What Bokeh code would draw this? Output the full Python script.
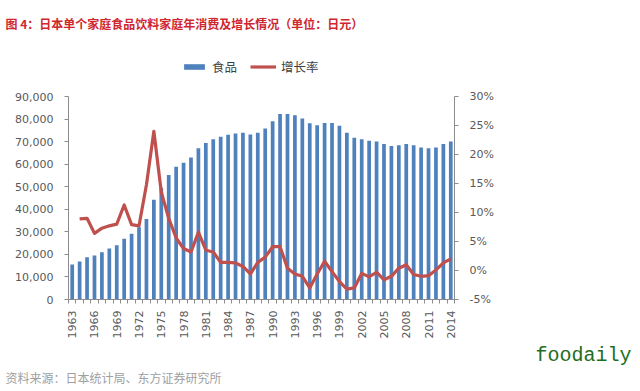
import math
from bokeh.plotting import figure
from bokeh.models import (Range1d, LinearAxis, FixedTicker, NumeralTickFormatter,
                          PrintfTickFormatter, Legend, LegendItem, Title)
from bokeh.embed import file_html
from bokeh.resources import INLINE

# ---------------- data ----------------
years = list(range(1963, 2015))
food = [15500, 16800, 18700, 19500, 20900, 22600, 24100, 26900, 29100, 32000,
        35700, 44200, 49500, 55200, 58800, 60600, 63000, 67100, 69400, 71100,
        72100, 73000, 73600, 73900, 73200, 73900, 75800, 79000, 82200, 82200,
        81700, 80300, 78100, 77300, 78200, 78200, 77000, 73900, 71700, 71100,
        70400, 70100, 68900, 68000, 68400, 68900, 68400, 67400, 67100, 67400,
        68900, 70000]
growth_years = years[1:]
growth = [8.9, 9.0, 6.4, 7.3, 7.7, 8.0, 11.3, 7.9, 7.7, 14.8,
          24.0, 13.5, 9.0, 5.6, 3.8, 3.2, 6.6, 3.5, 3.2, 1.4,
          1.4, 1.3, 0.7, -0.6, 1.4, 2.3, 4.1, 4.1, 0.4, -0.6,
          -1.0, -3.0, -0.6, 1.6, -0.2, -1.9, -3.2, -3.0, -0.5, -1.1,
          -0.3, -1.6, -1.0, 0.4, 1.0, -0.7, -1.0, -0.9, 0.1, 1.3, 2.0]
left_ticks = [0, 10000, 20000, 30000, 40000, 50000, 60000, 70000, 80000, 90000]
right_ticks = [-5, 0, 5, 10, 15, 20, 25, 30]
label_years = years[::3]

title_text = "图 4：日本单个家庭食品饮料家庭年消费及增长情况（单位：日元）"
source_text = "资料来源：日本统计局、东方证券研究所"
brand_text = "foodaily"
series_names = ["食品", "增长率"]

# ---------------- layout (page px) ----------------
W, H = 636, 388
FL, FR = 68, 454        # frame left / right
FT, PT, PB = 36, 96, 299  # frame top, plot-area top, plot-area bottom
ext = (PB - FT) / (PB - PT)   # frame extends above the plot area to hold the legend

y_lo, y_hi = left_ticks[0], left_ticks[-1]
r_lo, r_hi = right_ticks[0], right_ticks[-1]

p = figure(width=W, height=H, output_backend="svg", toolbar_location=None,
           title=None, x_range=Range1d(years[0] - 0.5, years[-1] + 0.5),
           y_range=Range1d(y_lo, y_lo + (y_hi - y_lo) * ext),
           min_border_left=FL, min_border_right=W - FR, min_border_top=FT,
           min_border_bottom=H - PB)
p.background_fill_color = "white"
p.border_fill_color = "white"
p.outline_line_color = None
p.xgrid.visible = False
p.ygrid.visible = False

axis_color = "#8c8c8c"
lab_color = "#595959"
font = "DejaVu Sans"

bars = p.vbar(x=years, top=food, width=0.5, fill_color="#4f81bd", line_color=None)

p.extra_y_ranges = {"pct": Range1d(r_lo, r_lo + (r_hi - r_lo) * ext)}
line = p.line(x=growth_years, y=growth, y_range_name="pct",
              line_color="#c0504d", line_width=3.2, line_join="round")

# x axis
xa = p.xaxis[0]
xa.ticker = FixedTicker(ticks=label_years,
                        minor_ticks=[y - 0.5 for y in years] + [years[-1] + 0.5])
xa.major_label_orientation = math.pi / 2
xa.major_tick_out = 0
xa.major_tick_in = 0
xa.minor_tick_out = 4
xa.minor_tick_in = 0
xa.minor_tick_line_color = axis_color
xa.axis_line_color = axis_color
xa.major_label_text_font = font
xa.major_label_text_font_size = "11px"
xa.major_label_text_color = lab_color
xa.major_label_standoff = 7

# left axis
ya = p.yaxis[0]
ya.ticker = FixedTicker(ticks=left_ticks)
ya.bounds = (y_lo, y_hi)
ya.formatter = NumeralTickFormatter(format="0,0")
ya.major_tick_out = 4
ya.major_tick_in = 0
ya.minor_tick_out = 0
ya.minor_tick_in = 0
ya.major_tick_line_color = axis_color
ya.axis_line_color = axis_color
ya.major_label_text_font = font
ya.major_label_text_font_size = "11px"
ya.major_label_text_color = lab_color
ya.major_label_standoff = 11

# right axis
ra = LinearAxis(y_range_name="pct", ticker=FixedTicker(ticks=right_ticks),
                formatter=PrintfTickFormatter(format="%d%%"), bounds=(r_lo, r_hi))
ra.major_tick_out = 4
ra.major_tick_in = 0
ra.minor_tick_out = 0
ra.minor_tick_in = 0
ra.major_tick_line_color = axis_color
ra.axis_line_color = axis_color
ra.major_label_text_font = font
ra.major_label_text_font_size = "11px"
ra.major_label_text_color = lab_color
ra.major_label_standoff = 11
p.add_layout(ra, "right")

# legend inside the (extended) frame, above the plot area
legend = Legend(items=[LegendItem(label=series_names[0], renderers=[bars]),
                       LegendItem(label=series_names[1], renderers=[line])],
                location=(181 - FL, PB - 76), orientation="horizontal", padding=0,
                margin=0, spacing=13, border_line_color=None, background_fill_alpha=0,
                label_text_font="Noto Sans CJK SC", label_text_font_size="12.5px",
                label_text_color="#404040", label_height=14, glyph_height=7,
                glyph_width=26, label_standoff=5)
p.add_layout(legend, "center")

# title above
p.add_layout(Title(text=title_text, align="left", offset=5 - FL, standoff=10,
                   text_font="Noto Sans CJK SC", text_font_style="bold",
                   text_font_size="12px", text_color="#d0262d"), "above")

# below: brand then source
p.add_layout(Title(text=brand_text, align="left", offset=535 - FL, standoff=0,
                   text_font="Liberation Mono", text_font_style="normal",
                   text_font_size="20px", text_color="#1e6e1e"), "below")
p.add_layout(Title(text=source_text, align="left", offset=5 - FL, standoff=0,
                   text_font="Noto Sans CJK SC", text_font_style="normal",
                   text_font_size="12px", text_color="#a0a0a0"), "below")

open("out.html", "w").write(file_html(p, INLINE))
